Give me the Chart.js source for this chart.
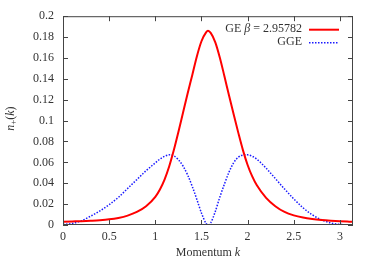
<!DOCTYPE html>
<html>
<head>
<meta charset="utf-8">
<script src="https://cdn.jsdelivr.net/npm/chart.js@4/dist/chart.umd.min.js"></script>
<style>
  html, body { margin: 0; padding: 0; background: #fff; }
</style>
</head>
<body>
<canvas id="plot" width="374" height="262"></canvas>
<script>
// momentum k samples (0 .. pi)
const momentum = [0, 0.1, 0.2, 0.3, 0.4, 0.5, 0.6, 0.7, 0.8, 0.9, 1.0, 1.05, 1.1, 1.15, 1.2, 1.25, 1.3, 1.35, 1.4, 1.45, 1.5, 1.55, 1.5708,
  1.6, 1.65, 1.7, 1.75, 1.8, 1.85, 1.9, 1.95, 2.0, 2.05, 2.1, 2.2, 2.3, 2.4, 2.5, 2.6, 2.7, 2.8, 2.9, 3.0, 3.1, 3.1416];
// GE beta = 2.95782
const geValues = [0.0031, 0.0034, 0.0037, 0.0041, 0.0046, 0.0054, 0.0068, 0.0090, 0.0125, 0.0180, 0.0270, 0.0340, 0.0435, 0.0560, 0.0715,
  0.0890, 0.1075, 0.1260, 0.1435, 0.1615, 0.1760, 0.1845, 0.1860,
  0.1840, 0.1750, 0.1600, 0.1420, 0.1235, 0.1055, 0.0880, 0.0715, 0.0575, 0.0465, 0.0380, 0.0260, 0.0180, 0.0125, 0.0092, 0.0071,
  0.0057, 0.0047, 0.0040, 0.0035, 0.0032, 0.0031];
// GGE
const ggeValues = [0.0005, 0.0015, 0.0040, 0.0085, 0.0135, 0.0195, 0.0265, 0.0350, 0.0435, 0.0520, 0.0595, 0.0632, 0.0658, 0.0672, 0.0662,
  0.0625, 0.0565, 0.0480, 0.0370, 0.0245, 0.0115, 0.0015, 0.0,
  0.0020, 0.0130, 0.0270, 0.0395, 0.0510, 0.0598, 0.0650, 0.0670, 0.0672, 0.0658, 0.0630, 0.0545, 0.0445, 0.0345, 0.0250, 0.0165,
  0.0098, 0.0050, 0.0020, 0.0006, 0.0001, 0.0];

const xTicks = [0, 0.5, 1, 1.5, 2, 2.5, 3];
const yTicks = [0, 0.02, 0.04, 0.06, 0.08, 0.1, 0.12, 0.14, 0.16, 0.18, 0.2];
const seriesLabels = ['GE β = 2.95782', 'GGE'];

const FONT = "'Liberation Serif', 'Times New Roman', serif";
const TEXT = '#333';
Chart.defaults.font.family = FONT;
Chart.defaults.font.size = 12;
Chart.defaults.color = TEXT;

function pts(ys) {
  return momentum.map((k, i) => ({ x: k, y: ys[i] }));
}

// draw text runs, some italic
function drawRuns(ctx, runs, x, y, align) {
  const fontOf = r => (r.i ? 'italic ' : '') + (r.s || 12) + 'px ' + FONT;
  let w = 0;
  runs.forEach(r => { ctx.font = fontOf(r); w += ctx.measureText(r.t).width; });
  let cx = align === 'right' ? x - w : align === 'center' ? x - w / 2 : x;
  ctx.textAlign = 'left';
  ctx.textBaseline = 'middle';
  runs.forEach(r => {
    ctx.font = fontOf(r);
    ctx.fillText(r.t, cx, y + (r.dy || 0));
    cx += ctx.measureText(r.t).width;
  });
}

const frame = {
  id: 'frame',
  afterDraw(chart) {
    const { ctx, chartArea: a, scales } = chart;
    ctx.save();
    // border box
    ctx.strokeStyle = '#444';
    ctx.lineWidth = 1;
    ctx.strokeRect(a.left + 0.5, a.top + 0.5, a.right - a.left - 1, a.bottom - a.top - 1);
    // inward ticks on all sides
    const tl = 5;
    ctx.beginPath();
    xTicks.forEach(v => {
      const px = Math.round(scales.x.getPixelForValue(v)) + 0.5;
      ctx.moveTo(px, a.bottom); ctx.lineTo(px, a.bottom - tl);
      ctx.moveTo(px, a.top); ctx.lineTo(px, a.top + tl);
    });
    yTicks.forEach(v => {
      const py = Math.round(scales.y.getPixelForValue(v)) + 0.5;
      ctx.moveTo(a.left, py); ctx.lineTo(a.left + tl, py);
      ctx.moveTo(a.right, py); ctx.lineTo(a.right - tl, py);
    });
    ctx.stroke();

    // legend, top right inside the plot
    chart.data.datasets.forEach((ds, i) => {
      const y = a.top + 13 + i * 13;
      const parts = ds.label.split('β');
      const runs = parts.length > 1
        ? [{ t: parts[0] }, { t: 'β', i: true }, { t: parts[1] }]
        : [{ t: ds.label }];
      ctx.fillStyle = TEXT;
      drawRuns(ctx, runs, a.right - 51, y, 'right');
      ctx.strokeStyle = ds.borderColor;
      ctx.lineWidth = ds.borderWidth;
      ctx.setLineDash(ds.borderDash || []);
      ctx.beginPath();
      ctx.moveTo(a.right - 44, y + 0.5);
      ctx.lineTo(a.right - 14, y + 0.5);
      ctx.stroke();
      ctx.setLineDash([]);
    });

    // axis titles
    ctx.fillStyle = TEXT;
    drawRuns(ctx, [{ t: 'Momentum ' }, { t: 'k', i: true }], (a.left + a.right) / 2, 253, 'center');
    ctx.translate(11, (a.top + a.bottom) / 2 - 2);
    ctx.rotate(-Math.PI / 2);
    drawRuns(ctx, [{ t: 'n', i: true }, { t: '+', s: 9, dy: 3 }, { t: '(' }, { t: 'k', i: true }, { t: ')' }], 0, 0, 'center');
    ctx.restore();
  }
};

new Chart(document.getElementById('plot'), {
  type: 'line',
  data: {
    datasets: [
      {
        label: seriesLabels[0],
        data: pts(geValues),
        borderColor: '#ff0000',
        borderWidth: 2,
        pointRadius: 0,
        cubicInterpolationMode: 'monotone',
        fill: false
      },
      {
        label: seriesLabels[1],
        data: pts(ggeValues),
        borderColor: '#1a1aff',
        borderWidth: 1.5,
        borderDash: [1.5, 1.5],
        pointRadius: 0,
        cubicInterpolationMode: 'monotone',
        fill: false
      }
    ]
  },
  options: {
    responsive: false,
    animation: false,
    layout: { padding: { left: 0, top: 14, right: 21, bottom: 0 } },
    plugins: { legend: { display: false }, tooltip: { enabled: false } },
    scales: {
      x: {
        type: 'linear',
        min: 0,
        max: 3.1416,
        grid: { display: false, drawTicks: false },
        border: { display: false },
        afterBuildTicks: s => { s.ticks = xTicks.map(v => ({ value: v })); },
        afterFit: s => { s.height = 37; },
        ticks: { padding: 5, maxRotation: 0, autoSkip: false, callback: v => String(v) }
      },
      y: {
        min: 0,
        max: 0.2,
        grid: { display: false, drawTicks: false },
        border: { display: false },
        afterBuildTicks: s => { s.ticks = yTicks.map(v => ({ value: v })); },
        afterFit: s => { s.width = 63; },
        ticks: { padding: 9, autoSkip: false, callback: v => String(v) }
      }
    }
  },
  plugins: [frame]
});
</script>
</body>
</html>
